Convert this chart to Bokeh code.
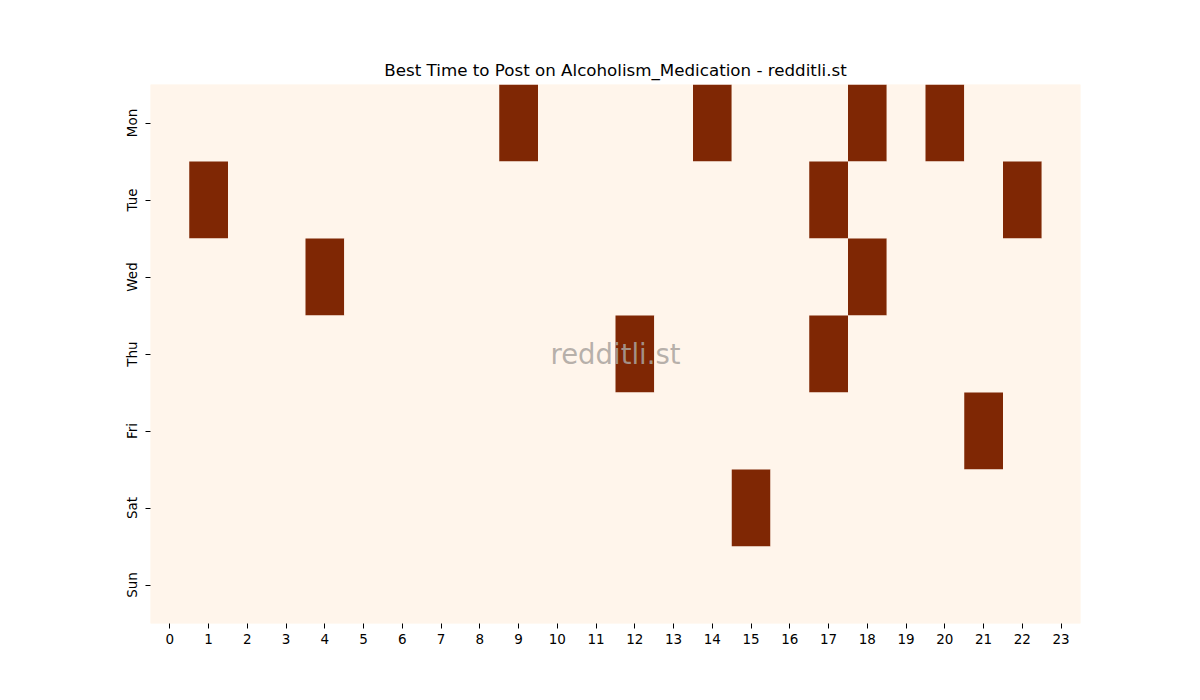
from bokeh.plotting import figure
from bokeh.models import ColumnDataSource, FixedTicker, LinearColorMapper
from bokeh.palettes import Oranges256
from bokeh.embed import file_html
from bokeh.resources import INLINE
from bokeh.core.properties import value

# data: 1 = best hour, 0 = nothing
days = ["Mon", "Tue", "Wed", "Thu", "Fri", "Sat", "Sun"]
hours = list(range(24))
mon = [0, 0, 0, 0, 0, 0, 0, 0, 0, 1, 0, 0, 0, 0, 1, 0, 0, 0, 1, 0, 1, 0, 0, 0]
tue = [0, 1, 0, 0, 0, 0, 0, 0, 0, 0, 0, 0, 0, 0, 0, 0, 0, 1, 0, 0, 0, 0, 1, 0]
wed = [0, 0, 0, 0, 1, 0, 0, 0, 0, 0, 0, 0, 0, 0, 0, 0, 0, 0, 1, 0, 0, 0, 0, 0]
thu = [0, 0, 0, 0, 0, 0, 0, 0, 0, 0, 0, 0, 1, 0, 0, 0, 0, 1, 0, 0, 0, 0, 0, 0]
fri = [0, 0, 0, 0, 0, 0, 0, 0, 0, 0, 0, 0, 0, 0, 0, 0, 0, 0, 0, 0, 0, 1, 0, 0]
sat = [0, 0, 0, 0, 0, 0, 0, 0, 0, 0, 0, 0, 0, 0, 0, 1, 0, 0, 0, 0, 0, 0, 0, 0]
sun = [0] * 24

rows = [mon, tue, wed, thu, fri, sat, sun]

# flatten into long form for the rect glyph
xs, ys, vals = [], [], []
for day, row in zip(days, rows):
    for h, v in zip(hours, row):
        xs.append(h)
        ys.append(day)
        vals.append(v)
src = ColumnDataSource(dict(hour=xs, day=ys, val=vals))

mapper = LinearColorMapper(palette=Oranges256[::-1], low=0, high=1)

p = figure(width=1184, height=684, output_backend="svg", toolbar_location=None,
           x_range=(-0.5, 23.5), y_range=list(reversed(days)),
           frame_width=930, frame_height=539,
           min_border_left=150, min_border_right=104, min_border_top=84, min_border_bottom=61,
           title="Best Time to Post on Alcoholism_Medication - redditli.st")

p.rect(x="hour", y="day", width=1, height=1, source=src,
       fill_color={"field": "val", "transform": mapper}, line_color=None)

p.text(x=[11.5], y=["Thu"], text=["redditli.st"], text_align="center", text_baseline="middle",
       text_font=value("DejaVu Sans"), text_font_size="27.5px", text_color="#aaa49f", text_alpha=0.85)

p.title.align = "center"
p.title.text_font = "DejaVu Sans"
p.title.text_font_size = "16.7px"
p.title.text_font_style = "normal"
p.title.text_color = "black"
p.title.offset = 7

p.xaxis.ticker = FixedTicker(ticks=hours)
p.yaxis.major_label_orientation = "parallel"
for ax in (p.xaxis, p.yaxis):
    ax.axis_line_color = None
    ax.major_tick_in = 0
    ax.major_tick_out = 5
    ax.minor_tick_line_color = None
    ax.major_label_text_font = "DejaVu Sans"
    ax.major_label_text_font_size = "13.5px"
    ax.major_label_text_color = "black"
    ax.major_tick_line_color = "black"
p.xaxis.major_label_standoff = 5
p.yaxis.major_label_standoff = 6

p.xgrid.grid_line_color = None
p.ygrid.grid_line_color = None
p.outline_line_color = None
p.background_fill_color = "#fff5eb"

open("out.html", "w").write(file_html(p, INLINE))
